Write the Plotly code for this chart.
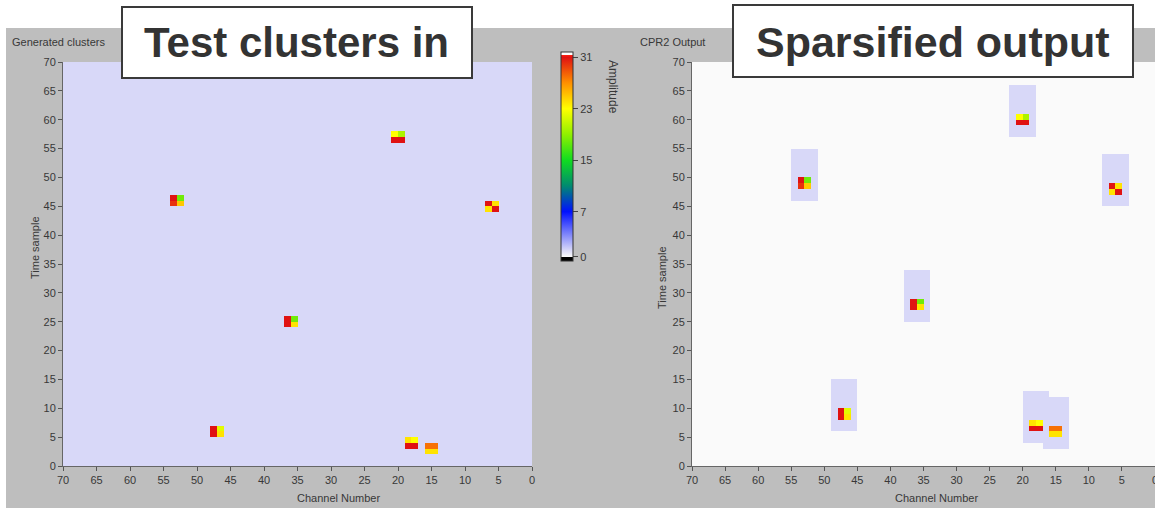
import numpy as np
import plotly.graph_objects as go

W, H = 1155, 508

# ---------------- data ----------------
n_channels = 70
n_samples = 70
x_ticks = list(range(0, 71, 5))
y_ticks = list(range(0, 71, 5))
cbar_ticks = [0, 7, 15, 23, 31]

# generated (input) clusters: channel / time sample of the 2x2 block centre
in_channel = [53, 36, 47, 20, 6, 18, 15]
in_time = [46, 25, 6, 57, 45, 4, 3]
# sparsified (output) clusters
out_channel = [53, 36, 47, 20, 6, 18, 15]
out_time = [49, 28, 9, 60, 48, 7, 6]
# 2x2 amplitude magnitudes per cluster, screen order [[top-left, top-right], [bottom-left, bottom-right]]
cluster_amp = [
    [[31, 18], [30, 25]],
    [[31, 18], [31, 24]],
    [[31, 22], [31, 24]],
    [[23, 20], [31, 31]],
    [[31, 24], [24, 31]],
    [[24, 23], [31, 31]],
    [[28, 28], [24, 24]],
]
background_in = 1      # faint amplitude everywhere in generated data
window_level = 1       # amplitude inside kept windows of the sparsified output
window_w = 4           # channels
window_below = 3       # samples below cluster centre
window_above = 6       # samples above cluster centre


def build(base, chans, times, windows):
    z = np.full((n_samples, n_channels), float(base))
    for c, t, amp in zip(chans, times, cluster_amp):
        if windows:
            for k in range(c - window_w // 2, c + window_w // 2):
                for j in range(t - window_below, t + window_above):
                    z[j, k] = max(z[j, k], window_level)
    for c, t, amp in zip(chans, times, cluster_amp):
        # x axis reversed: screen-left cell is higher channel index
        z[t, c] = amp[0][0]
        z[t, c - 1] = amp[0][1]
        z[t - 1, c] = amp[1][0]
        z[t - 1, c - 1] = amp[1][1]
    return z


xc = np.arange(n_channels) + 0.5
yc = np.arange(n_samples) + 0.5
z_in = build(background_in, in_channel, in_time, False)
z_out = build(0, out_channel, out_time, True)

# ---------------- style ----------------
zmin, zmax = -0.67, 31.82


def f(v):
    return (v - zmin) / (zmax - zmin)


eps = 1e-4
colorscale = [
    [0.0, "#000000"], [f(0) - eps, "#000000"],
    [f(0), "#fafafa"],
    [f(1), "#d8d8f8"],
    [f(7), "#0010ff"],
    [f(11), "#008a70"],
    [f(15), "#10dc20"],
    [f(19), "#90f000"],
    [f(23), "#ffff00"],
    [f(27), "#ff9000"],
    [f(31), "#e01212"],
    [f(31.36) - eps, "#ff2010"],
    [f(31.36), "#ffffff"], [1.0, "#ffffff"],
]

GRAY = "#bebebe"
TXT = "#383838"
FONT = "Liberation Sans"

xl = [63 / W, 532 / W]
xr = [692 / W, 1.0]
yd = [(H - 466) / H, (H - 62) / H]

fig = go.Figure()
fig.add_trace(go.Heatmap(x=xc, y=yc, z=z_in, coloraxis="coloraxis",
                         xaxis="x", yaxis="y", hoverinfo="skip"))
fig.add_trace(go.Heatmap(x=xc, y=yc, z=z_out, coloraxis="coloraxis",
                         xaxis="x2", yaxis="y2", hoverinfo="skip"))

axis_common = dict(showgrid=False, zeroline=False, ticks="outside", ticklen=4,
                   tickcolor="#555", showline=True, linecolor="#666", linewidth=1,
                   tickfont=dict(family=FONT, size=11, color=TXT), mirror=False,
                   automargin=False)

fig.update_layout(
    template="none",
    width=W, height=H,
    margin=dict(l=0, r=0, t=0, b=0, pad=0, autoexpand=False),
    paper_bgcolor=GRAY, plot_bgcolor="#d8d8f8",
    showlegend=False,
    xaxis=dict(domain=xl, range=[70, 0], tickvals=x_ticks, anchor="y", **axis_common),
    yaxis=dict(domain=yd, range=[0, 70], tickvals=y_ticks, anchor="x", **axis_common),
    xaxis2=dict(domain=xr, range=[70, 0], tickvals=x_ticks, anchor="y2",
                ticklabeloverflow="allow", **axis_common),
    yaxis2=dict(domain=yd, range=[0, 70], tickvals=y_ticks, anchor="x2", **axis_common),
    coloraxis=dict(
        colorscale=colorscale, cmin=zmin, cmax=zmax,
        colorbar=dict(
            x=561 / W, xanchor="left", xpad=0,
            y=1 - 156.5 / H, yanchor="middle", ypad=0,
            len=209, lenmode="pixels", thickness=12,
            outlinewidth=1, outlinecolor="#333",
            tickvals=cbar_ticks, ticktext=[str(v) for v in cbar_ticks],
            ticks="outside", ticklen=5, tickcolor="#444",
            tickfont=dict(family=FONT, size=11, color=TXT),
            bgcolor="rgba(0,0,0,0)", borderwidth=0,
        ),
    ),
)

shapes = [
    # white margin top and left
    dict(type="rect", xref="paper", yref="paper", x0=0, x1=1, y0=1 - 28 / H, y1=1,
         fillcolor="white", line_width=0, layer="below"),
    dict(type="rect", xref="paper", yref="paper", x0=0, x1=6 / W, y0=0, y1=1,
         fillcolor="white", line_width=0, layer="below"),
    # title boxes
    dict(type="rect", xref="paper", yref="paper", x0=122 / W, x1=472 / W,
         y0=1 - 78 / H, y1=1 - 7 / H, fillcolor="white",
         line=dict(color="#3a3a3a", width=2), layer="above"),
    dict(type="rect", xref="paper", yref="paper", x0=733 / W, x1=1133 / W,
         y0=1 - 77 / H, y1=1 - 5 / H, fillcolor="white",
         line=dict(color="#3a3a3a", width=2), layer="above"),
]
fig.update_layout(shapes=shapes)

ann = []


def A(text, x, y, size=11, bold=False, angle=0, xanchor="center", color=TXT):
    ann.append(dict(text=text, x=x / W, y=1 - y / H, xref="paper", yref="paper",
                    showarrow=False, textangle=angle, xanchor=xanchor, yanchor="middle",
                    font=dict(family=FONT, size=size, color=color)))


A("<b>Test clusters in</b>", 297, 43, size=42, color="#333333")
A("<b>Sparsified output</b>", 933, 42, size=43, color="#333333")
A("Generated clusters", 10, 42, xanchor="left")
A("CPR2 Output", 638, 42, xanchor="left")
A("Time sample", 35, 248, angle=-90)
A("Time sample", 662, 278, angle=-90)
A("Channel Number", 338, 498)
A("Channel Number", 936, 498)
A("Amplitude", 613, 87, size=12, angle=90)
fig.update_layout(annotations=ann)

fig.write_html("out.html", config={"displayModeBar": False},
               post_script="document.body.style.margin='0';")
